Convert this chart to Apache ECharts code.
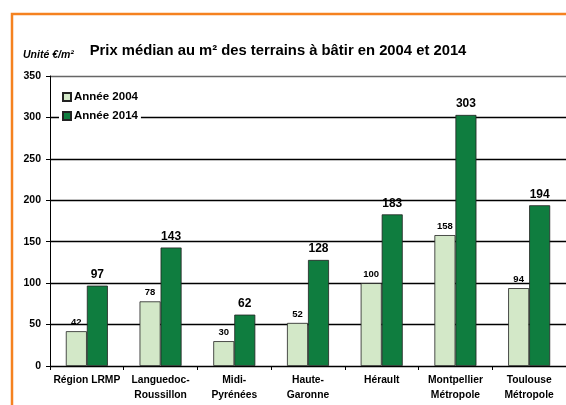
<!DOCTYPE html>
<html><head><meta charset="utf-8">
<script src="https://cdn.jsdelivr.net/npm/echarts@6/dist/echarts.min.js"></script>
<style>html,body{margin:0;padding:0;background:#fff}#c{width:566px;height:405px}</style>
</head><body><div id="c"></div>
<script>
const categories = ['Région LRMP', 'Languedoc-\nRoussillon', 'Midi-\nPyrénées', 'Haute-\nGaronne', 'Hérault', 'Montpellier\nMétropole', 'Toulouse\nMétropole'];
const values2004 = [42, 78, 30, 52, 100, 158, 94];
const values2014 = [97, 143, 62, 128, 183, 303, 194];
const seriesNames = ['Année 2004', 'Année 2014'];
const titleText = 'Prix médian au m² des terrains à bâtir en 2004 et 2014';
const unitText = 'Unité €/m²';

const FONT = '"Liberation Sans", Arial, sans-serif';
const chart = echarts.init(document.getElementById('c'), null, {renderer: 'canvas'});
chart.setOption({
  animation: false,
  backgroundColor: '#fff',
  textStyle: {fontFamily: FONT},
  title: [{
    text: titleText, left: 273, textAlign: 'center', top: 38,
    textStyle: {fontFamily: FONT, fontSize: 14.8, fontWeight: 'bold', color: '#000'}
  }, {
    text: unitText, left: 18, top: 45,
    textStyle: {fontFamily: FONT, fontSize: 10.5, fontWeight: 'bold', fontStyle: 'italic', color: '#000'}
  }],
  legend: {
    orient: 'vertical', left: 59, top: 89, itemWidth: 8, itemHeight: 8, itemGap: 7,
    padding: [2, 3, 2, 3], backgroundColor: '#fff',
    icon: 'rect',
    textStyle: {fontFamily: FONT, fontSize: 11.5, fontWeight: 'bold', color: '#000', padding: [0, 0, 0, -2]},
    data: seriesNames
  },
  grid: {left: 50, right: -2, top: 76, bottom: 39},
  xAxis: {
    type: 'category', data: categories,
    axisLine: {lineStyle: {color: '#000', width: 1}},
    axisTick: {show: true, length: 4, lineStyle: {color: '#000'}},
    axisLabel: {fontFamily: FONT, fontSize: 10.3, fontWeight: 'bold', color: '#000', lineHeight: 15, margin: 7, interval: 0}
  },
  yAxis: {
    type: 'value', min: 0, max: 350, interval: 50,
    axisLine: {show: true, lineStyle: {color: '#000', width: 1}},
    axisTick: {show: true, length: 4, lineStyle: {color: '#000'}},
    axisLabel: {fontFamily: FONT, fontSize: 10.5, fontWeight: 'bold', color: '#000', margin: 9},
    splitLine: {lineStyle: {color: ['#000', '#000', '#000', '#000', '#000', '#000', '#000', '#666'], width: 1.3}}
  },
  series: [{
    name: seriesNames[0], type: 'bar', data: values2004,
    barGap: '0%', barCategoryGap: '43%',
    itemStyle: {color: '#d3e8c8', borderColor: '#222', borderWidth: 0.8},
    label: {show: true, position: 'top', distance: 4, fontFamily: FONT, fontSize: 9.5, fontWeight: 'bold', color: '#000'}
  }, {
    name: seriesNames[1], type: 'bar', data: values2014,
    itemStyle: {color: '#0f7d3f', borderColor: '#222', borderWidth: 0.8},
    label: {show: true, position: 'top', distance: 5, fontFamily: FONT, fontSize: 12, fontWeight: 'bold', color: '#000'}
  }],
  graphic: [{
    type: 'polyline', silent: true, z: 100,
    shape: {points: [[12, 405], [12, 14], [570, 14]]},
    style: {stroke: '#f58220', lineWidth: 2.5, fill: null}
  }]
});
</script></body></html>
